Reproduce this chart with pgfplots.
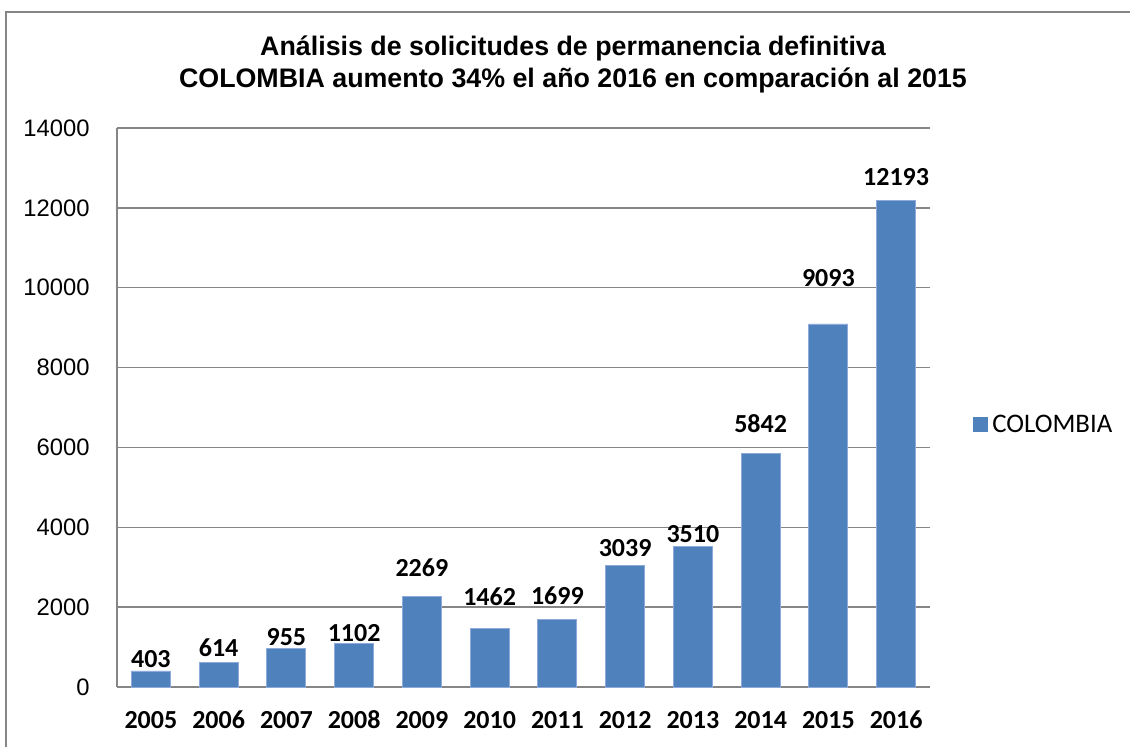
\documentclass[border=0pt]{standalone}
\usepackage{pgfplots}
\usepackage{pgfplotstable}
\pgfplotsset{compat=1.18}
\usepackage{fontspec}
\setmainfont{Liberation Sans}
\newfontfamily\carlito{Carlito}
\definecolor{barblue}{HTML}{4F81BD}
\definecolor{baredge}{HTML}{8EAADB}
\definecolor{gridgray}{HTML}{868686}

\pgfplotstableread{
x year val gap
0 2005 403 3
1 2006 614 5
2 2007 955 3
3 2008 1102 1
4 2009 2269 19
5 2010 1462 23
6 2011 1699 14
7 2012 3039 9
8 2013 3510 4
9 2014 5842 21
10 2015 9093 37
11 2016 12193 14
}\datatable

\begin{document}
\begin{tikzpicture}[x=1pt,y=1pt]
\useasboundingbox (0,0) rectangle (565,373);
\draw[gridgray, line width=0.75pt] (3,-2) -- (3,367) -- (568,367);
\node[anchor=base, font=\bfseries\fontsize{13.4}{15}\selectfont] at (286.5,345) {Análisis de solicitudes de permanencia definitiva};
\node[anchor=base, font=\bfseries\fontsize{13.4}{15}\selectfont] at (286.5,329) {COLOMBIA aumento 34\% el año 2016 en comparación al 2015};
\begin{axis}[
  at={(58.5pt,29.5pt)}, anchor=south west,
  scale only axis, width=406.5pt, height=279.5pt,
  ybar, bar width=19.5pt,
  xmin=-0.5, xmax=11.5, ymin=0, ymax=14000,
  ytick={0,2000,...,14000},
  xtick=data, xticklabels from table={\datatable}{year},
  scaled y ticks=false,
  /pgf/number format/1000 sep={},
  /pgf/number format/assume math mode=true,
  axis x line*=bottom, axis y line*=left,
  axis line style={gridgray, line width=0.75pt, -},
  ymajorgrids, major grid style={gridgray, line width=0.75pt},
  major tick length=0pt,
  yticklabel style={font=\fontsize{11.9}{13}\selectfont, inner sep=0pt, xshift=-13.5pt},
  xticklabel style={font=\carlito\bfseries\fontsize{13}{15}\selectfont, inner sep=0pt, anchor=base, yshift=-20.5pt},
  point meta=y,
  visualization depends on={\thisrow{gap} \as \labelgap},
  nodes near coords={\pgfmathprintnumber[fixed,precision=0,1000 sep={}]{\pgfplotspointmeta}},
  nodes near coords style={anchor=south, inner sep=0pt, yshift={\labelgap*0.5pt}, font=\carlito\bfseries\fontsize{13}{15}\selectfont, text=black},
  legend style={at={(1.053,0.469)}, anchor=west, draw=none, fill=none, inner sep=0pt, font=\carlito\fontsize{13.4}{15}\selectfont},
  legend image code/.code={\fill[barblue] (0pt,-3.5pt) rectangle (7pt,3.5pt);},
]
\addplot[fill=barblue, draw=baredge, line width=0.4pt] table[x=x,y=val] {\datatable};
\addlegendentry{COLOMBIA}
\end{axis}
\end{tikzpicture}
\end{document}
